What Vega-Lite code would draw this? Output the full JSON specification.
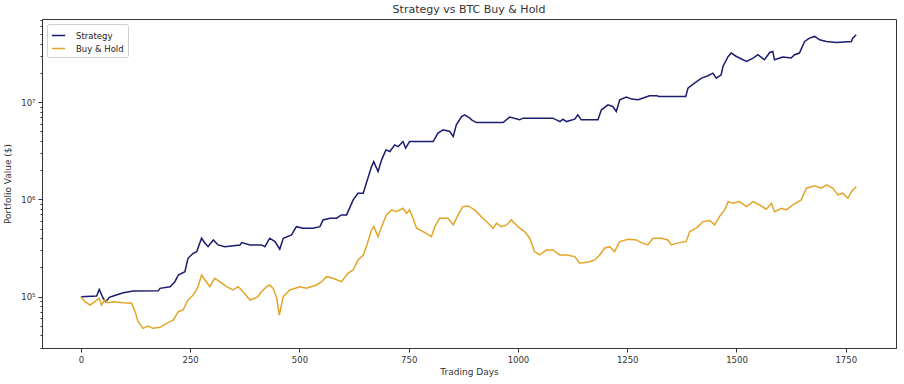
{
  "$schema": "https://vega.github.io/schema/vega-lite/v6.json",
  "width": 854,
  "height": 329,
  "padding": {"left": 42, "top": 19, "right": 8, "bottom": 36},
  "autosize": {"type": "none"},
  "background": "white",
  "config": {
    "font": "DejaVu Sans",
    "view": {"stroke": "#333", "strokeWidth": 1},
    "axis": {"grid": false, "domainColor": "#333", "tickColor": "#333", "labelColor": "#333", "titleColor": "#333", "labelFontSize": 8.5, "titleFontSize": 9, "titleFontWeight": "normal"}
  },
  "title": {"text": "Strategy vs BTC Buy & Hold", "fontSize": 11, "fontWeight": "normal", "color": "#333", "offset": 1, "anchor": "middle"},
  "datasets": {
    "series": [
      {"series": "Strategy", "day": 0, "value": 100000},
      {"series": "Strategy", "day": 36, "value": 101500},
      {"series": "Strategy", "day": 42, "value": 119000},
      {"series": "Strategy", "day": 51, "value": 96300},
      {"series": "Strategy", "day": 57, "value": 88900},
      {"series": "Strategy", "day": 65, "value": 98600},
      {"series": "Strategy", "day": 74, "value": 101700},
      {"series": "Strategy", "day": 97, "value": 109900},
      {"series": "Strategy", "day": 120, "value": 114500},
      {"series": "Strategy", "day": 177, "value": 115300},
      {"series": "Strategy", "day": 181, "value": 121900},
      {"series": "Strategy", "day": 204, "value": 126700},
      {"series": "Strategy", "day": 215, "value": 142600},
      {"series": "Strategy", "day": 223, "value": 167200},
      {"series": "Strategy", "day": 238, "value": 180800},
      {"series": "Strategy", "day": 245, "value": 248300},
      {"series": "Strategy", "day": 257, "value": 279600},
      {"series": "Strategy", "day": 265, "value": 290400},
      {"series": "Strategy", "day": 276, "value": 398900},
      {"series": "Strategy", "day": 284, "value": 354000},
      {"series": "Strategy", "day": 291, "value": 326700},
      {"series": "Strategy", "day": 303, "value": 383000},
      {"series": "Strategy", "day": 314, "value": 340400},
      {"series": "Strategy", "day": 329, "value": 326700},
      {"series": "Strategy", "day": 364, "value": 340400},
      {"series": "Strategy", "day": 368, "value": 359600},
      {"series": "Strategy", "day": 387, "value": 340400},
      {"series": "Strategy", "day": 413, "value": 340400},
      {"series": "Strategy", "day": 421, "value": 326700},
      {"series": "Strategy", "day": 432, "value": 398900},
      {"series": "Strategy", "day": 444, "value": 368100},
      {"series": "Strategy", "day": 455, "value": 307400},
      {"series": "Strategy", "day": 463, "value": 398900},
      {"series": "Strategy", "day": 482, "value": 431400},
      {"series": "Strategy", "day": 493, "value": 524800},
      {"series": "Strategy", "day": 508, "value": 505800},
      {"series": "Strategy", "day": 531, "value": 505800},
      {"series": "Strategy", "day": 547, "value": 524800},
      {"series": "Strategy", "day": 554, "value": 615200},
      {"series": "Strategy", "day": 570, "value": 641200},
      {"series": "Strategy", "day": 585, "value": 641200},
      {"series": "Strategy", "day": 596, "value": 693200},
      {"series": "Strategy", "day": 608, "value": 693200},
      {"series": "Strategy", "day": 623, "value": 988600},
      {"series": "Strategy", "day": 634, "value": 1158000},
      {"series": "Strategy", "day": 646, "value": 1158000},
      {"series": "Strategy", "day": 653, "value": 1468000},
      {"series": "Strategy", "day": 665, "value": 2175000},
      {"series": "Strategy", "day": 670, "value": 2448000},
      {"series": "Strategy", "day": 680, "value": 1932000},
      {"series": "Strategy", "day": 688, "value": 2549000},
      {"series": "Strategy", "day": 698, "value": 3230000},
      {"series": "Strategy", "day": 707, "value": 3105000},
      {"series": "Strategy", "day": 718, "value": 3638000},
      {"series": "Strategy", "day": 726, "value": 3491000},
      {"series": "Strategy", "day": 737, "value": 3934000},
      {"series": "Strategy", "day": 743, "value": 3365000},
      {"series": "Strategy", "day": 752, "value": 3934000},
      {"series": "Strategy", "day": 806, "value": 3934000},
      {"series": "Strategy", "day": 817, "value": 4797000},
      {"series": "Strategy", "day": 829, "value": 5188000},
      {"series": "Strategy", "day": 844, "value": 4988000},
      {"series": "Strategy", "day": 852, "value": 4426000},
      {"series": "Strategy", "day": 859, "value": 5834000},
      {"series": "Strategy", "day": 871, "value": 7112000},
      {"series": "Strategy", "day": 878, "value": 7396000},
      {"series": "Strategy", "day": 890, "value": 6844000},
      {"series": "Strategy", "day": 894, "value": 6577000},
      {"series": "Strategy", "day": 905, "value": 6166000},
      {"series": "Strategy", "day": 966, "value": 6166000},
      {"series": "Strategy", "day": 981, "value": 7015000},
      {"series": "Strategy", "day": 1004, "value": 6577000},
      {"series": "Strategy", "day": 1012, "value": 6844000},
      {"series": "Strategy", "day": 1080, "value": 6844000},
      {"series": "Strategy", "day": 1096, "value": 6310000},
      {"series": "Strategy", "day": 1103, "value": 6683000},
      {"series": "Strategy", "day": 1111, "value": 6310000},
      {"series": "Strategy", "day": 1130, "value": 6683000},
      {"series": "Strategy", "day": 1137, "value": 7396000},
      {"series": "Strategy", "day": 1145, "value": 6577000},
      {"series": "Strategy", "day": 1183, "value": 6577000},
      {"series": "Strategy", "day": 1191, "value": 8337000},
      {"series": "Strategy", "day": 1206, "value": 9376000},
      {"series": "Strategy", "day": 1217, "value": 9016000},
      {"series": "Strategy", "day": 1225, "value": 8000000},
      {"series": "Strategy", "day": 1233, "value": 10570000},
      {"series": "Strategy", "day": 1248, "value": 11250000},
      {"series": "Strategy", "day": 1260, "value": 10740000},
      {"series": "Strategy", "day": 1275, "value": 10570000},
      {"series": "Strategy", "day": 1301, "value": 11610000},
      {"series": "Strategy", "day": 1317, "value": 11610000},
      {"series": "Strategy", "day": 1324, "value": 11430000},
      {"series": "Strategy", "day": 1384, "value": 11430000},
      {"series": "Strategy", "day": 1389, "value": 13930000},
      {"series": "Strategy", "day": 1404, "value": 15670000},
      {"series": "Strategy", "day": 1420, "value": 17660000},
      {"series": "Strategy", "day": 1435, "value": 18660000},
      {"series": "Strategy", "day": 1446, "value": 19860000},
      {"series": "Strategy", "day": 1454, "value": 17660000},
      {"series": "Strategy", "day": 1465, "value": 19100000},
      {"series": "Strategy", "day": 1469, "value": 23230000},
      {"series": "Strategy", "day": 1481, "value": 29440000},
      {"series": "Strategy", "day": 1488, "value": 31920000},
      {"series": "Strategy", "day": 1500, "value": 29440000},
      {"series": "Strategy", "day": 1507, "value": 28380000},
      {"series": "Strategy", "day": 1523, "value": 26180000},
      {"series": "Strategy", "day": 1538, "value": 28380000},
      {"series": "Strategy", "day": 1549, "value": 30690000},
      {"series": "Strategy", "day": 1564, "value": 27230000},
      {"series": "Strategy", "day": 1576, "value": 32360000},
      {"series": "Strategy", "day": 1583, "value": 33190000},
      {"series": "Strategy", "day": 1587, "value": 27230000},
      {"series": "Strategy", "day": 1606, "value": 29040000},
      {"series": "Strategy", "day": 1625, "value": 28380000},
      {"series": "Strategy", "day": 1633, "value": 30690000},
      {"series": "Strategy", "day": 1644, "value": 31920000},
      {"series": "Strategy", "day": 1656, "value": 41980000},
      {"series": "Strategy", "day": 1667, "value": 45500000},
      {"series": "Strategy", "day": 1679, "value": 47320000},
      {"series": "Strategy", "day": 1690, "value": 43750000},
      {"series": "Strategy", "day": 1706, "value": 41980000},
      {"series": "Strategy", "day": 1728, "value": 41020000},
      {"series": "Strategy", "day": 1763, "value": 41980000},
      {"series": "Strategy", "day": 1766, "value": 45500000},
      {"series": "Strategy", "day": 1774, "value": 49200000},
      {"series": "Buy & Hold", "day": 0, "value": 100000},
      {"series": "Buy & Hold", "day": 9, "value": 88900},
      {"series": "Buy & Hold", "day": 21, "value": 82200},
      {"series": "Buy & Hold", "day": 32, "value": 88900},
      {"series": "Buy & Hold", "day": 42, "value": 96300},
      {"series": "Buy & Hold", "day": 47, "value": 82200},
      {"series": "Buy & Hold", "day": 55, "value": 92500},
      {"series": "Buy & Hold", "day": 62, "value": 86700},
      {"series": "Buy & Hold", "day": 74, "value": 88900},
      {"series": "Buy & Hold", "day": 97, "value": 86700},
      {"series": "Buy & Hold", "day": 116, "value": 85500},
      {"series": "Buy & Hold", "day": 124, "value": 70100},
      {"series": "Buy & Hold", "day": 131, "value": 55300},
      {"series": "Buy & Hold", "day": 142, "value": 47300},
      {"series": "Buy & Hold", "day": 154, "value": 50000},
      {"series": "Buy & Hold", "day": 165, "value": 47300},
      {"series": "Buy & Hold", "day": 181, "value": 48400},
      {"series": "Buy & Hold", "day": 196, "value": 53200},
      {"series": "Buy & Hold", "day": 211, "value": 57500},
      {"series": "Buy & Hold", "day": 223, "value": 70100},
      {"series": "Buy & Hold", "day": 234, "value": 73000},
      {"series": "Buy & Hold", "day": 245, "value": 92500},
      {"series": "Buy & Hold", "day": 257, "value": 104000},
      {"series": "Buy & Hold", "day": 268, "value": 126700},
      {"series": "Buy & Hold", "day": 276, "value": 167200},
      {"series": "Buy & Hold", "day": 284, "value": 148600},
      {"series": "Buy & Hold", "day": 295, "value": 126700},
      {"series": "Buy & Hold", "day": 306, "value": 154600},
      {"series": "Buy & Hold", "day": 318, "value": 142600},
      {"series": "Buy & Hold", "day": 333, "value": 126700},
      {"series": "Buy & Hold", "day": 348, "value": 117200},
      {"series": "Buy & Hold", "day": 360, "value": 126700},
      {"series": "Buy & Hold", "day": 371, "value": 112500},
      {"series": "Buy & Hold", "day": 387, "value": 92500},
      {"series": "Buy & Hold", "day": 398, "value": 96300},
      {"series": "Buy & Hold", "day": 405, "value": 100000},
      {"series": "Buy & Hold", "day": 413, "value": 112500},
      {"series": "Buy & Hold", "day": 425, "value": 126700},
      {"series": "Buy & Hold", "day": 432, "value": 131900},
      {"series": "Buy & Hold", "day": 440, "value": 121900},
      {"series": "Buy & Hold", "day": 448, "value": 97000},
      {"series": "Buy & Hold", "day": 454, "value": 64800},
      {"series": "Buy & Hold", "day": 463, "value": 100000},
      {"series": "Buy & Hold", "day": 478, "value": 117200},
      {"series": "Buy & Hold", "day": 501, "value": 126700},
      {"series": "Buy & Hold", "day": 516, "value": 121900},
      {"series": "Buy & Hold", "day": 539, "value": 131900},
      {"series": "Buy & Hold", "day": 551, "value": 142600},
      {"series": "Buy & Hold", "day": 562, "value": 160600},
      {"series": "Buy & Hold", "day": 577, "value": 154600},
      {"series": "Buy & Hold", "day": 596, "value": 142600},
      {"series": "Buy & Hold", "day": 611, "value": 174100},
      {"series": "Buy & Hold", "day": 623, "value": 188300},
      {"series": "Buy & Hold", "day": 634, "value": 238600},
      {"series": "Buy & Hold", "day": 646, "value": 268600},
      {"series": "Buy & Hold", "day": 653, "value": 326700},
      {"series": "Buy & Hold", "day": 665, "value": 485300},
      {"series": "Buy & Hold", "day": 670, "value": 524800},
      {"series": "Buy & Hold", "day": 680, "value": 414100},
      {"series": "Buy & Hold", "day": 688, "value": 524800},
      {"series": "Buy & Hold", "day": 699, "value": 693200},
      {"series": "Buy & Hold", "day": 711, "value": 779800},
      {"series": "Buy & Hold", "day": 722, "value": 748200},
      {"series": "Buy & Hold", "day": 737, "value": 811100},
      {"series": "Buy & Hold", "day": 745, "value": 721100},
      {"series": "Buy & Hold", "day": 752, "value": 779800},
      {"series": "Buy & Hold", "day": 760, "value": 641200},
      {"series": "Buy & Hold", "day": 768, "value": 505800},
      {"series": "Buy & Hold", "day": 783, "value": 466700},
      {"series": "Buy & Hold", "day": 802, "value": 414100},
      {"series": "Buy & Hold", "day": 810, "value": 524800},
      {"series": "Buy & Hold", "day": 821, "value": 641200},
      {"series": "Buy & Hold", "day": 840, "value": 641200},
      {"series": "Buy & Hold", "day": 852, "value": 547000},
      {"series": "Buy & Hold", "day": 863, "value": 693200},
      {"series": "Buy & Hold", "day": 874, "value": 843300},
      {"series": "Buy & Hold", "day": 886, "value": 857000},
      {"series": "Buy & Hold", "day": 901, "value": 779800},
      {"series": "Buy & Hold", "day": 916, "value": 665300},
      {"series": "Buy & Hold", "day": 932, "value": 568900},
      {"series": "Buy & Hold", "day": 943, "value": 505800},
      {"series": "Buy & Hold", "day": 951, "value": 568900},
      {"series": "Buy & Hold", "day": 962, "value": 524800},
      {"series": "Buy & Hold", "day": 974, "value": 547000},
      {"series": "Buy & Hold", "day": 985, "value": 615200},
      {"series": "Buy & Hold", "day": 1000, "value": 524800},
      {"series": "Buy & Hold", "day": 1015, "value": 466700},
      {"series": "Buy & Hold", "day": 1027, "value": 398900},
      {"series": "Buy & Hold", "day": 1038, "value": 290400},
      {"series": "Buy & Hold", "day": 1050, "value": 268600},
      {"series": "Buy & Hold", "day": 1065, "value": 302200},
      {"series": "Buy & Hold", "day": 1080, "value": 302200},
      {"series": "Buy & Hold", "day": 1096, "value": 268600},
      {"series": "Buy & Hold", "day": 1111, "value": 268600},
      {"series": "Buy & Hold", "day": 1130, "value": 258200},
      {"series": "Buy & Hold", "day": 1141, "value": 220800},
      {"series": "Buy & Hold", "day": 1164, "value": 229100},
      {"series": "Buy & Hold", "day": 1176, "value": 238600},
      {"series": "Buy & Hold", "day": 1187, "value": 268600},
      {"series": "Buy & Hold", "day": 1198, "value": 314800},
      {"series": "Buy & Hold", "day": 1210, "value": 326700},
      {"series": "Buy & Hold", "day": 1221, "value": 290400},
      {"series": "Buy & Hold", "day": 1233, "value": 368100},
      {"series": "Buy & Hold", "day": 1252, "value": 389600},
      {"series": "Buy & Hold", "day": 1271, "value": 383000},
      {"series": "Buy & Hold", "day": 1282, "value": 359600},
      {"series": "Buy & Hold", "day": 1297, "value": 340400},
      {"series": "Buy & Hold", "day": 1309, "value": 398900},
      {"series": "Buy & Hold", "day": 1328, "value": 398900},
      {"series": "Buy & Hold", "day": 1343, "value": 383000},
      {"series": "Buy & Hold", "day": 1351, "value": 340400},
      {"series": "Buy & Hold", "day": 1370, "value": 359600},
      {"series": "Buy & Hold", "day": 1385, "value": 368100},
      {"series": "Buy & Hold", "day": 1393, "value": 466700},
      {"series": "Buy & Hold", "day": 1408, "value": 505800},
      {"series": "Buy & Hold", "day": 1416, "value": 547000},
      {"series": "Buy & Hold", "day": 1423, "value": 591600},
      {"series": "Buy & Hold", "day": 1439, "value": 605400},
      {"series": "Buy & Hold", "day": 1450, "value": 547000},
      {"series": "Buy & Hold", "day": 1461, "value": 665300},
      {"series": "Buy & Hold", "day": 1473, "value": 779800},
      {"series": "Buy & Hold", "day": 1481, "value": 948600},
      {"series": "Buy & Hold", "day": 1492, "value": 914100},
      {"series": "Buy & Hold", "day": 1507, "value": 948600},
      {"series": "Buy & Hold", "day": 1523, "value": 843300},
      {"series": "Buy & Hold", "day": 1538, "value": 948600},
      {"series": "Buy & Hold", "day": 1553, "value": 877000},
      {"series": "Buy & Hold", "day": 1568, "value": 792500},
      {"series": "Buy & Hold", "day": 1580, "value": 914100},
      {"series": "Buy & Hold", "day": 1587, "value": 748200},
      {"series": "Buy & Hold", "day": 1603, "value": 811100},
      {"series": "Buy & Hold", "day": 1614, "value": 779800},
      {"series": "Buy & Hold", "day": 1629, "value": 877000},
      {"series": "Buy & Hold", "day": 1648, "value": 988600},
      {"series": "Buy & Hold", "day": 1660, "value": 1303000},
      {"series": "Buy & Hold", "day": 1679, "value": 1377000},
      {"series": "Buy & Hold", "day": 1694, "value": 1303000},
      {"series": "Buy & Hold", "day": 1706, "value": 1410000},
      {"series": "Buy & Hold", "day": 1721, "value": 1303000},
      {"series": "Buy & Hold", "day": 1732, "value": 1112000},
      {"series": "Buy & Hold", "day": 1743, "value": 1158000},
      {"series": "Buy & Hold", "day": 1755, "value": 1028000},
      {"series": "Buy & Hold", "day": 1763, "value": 1202000},
      {"series": "Buy & Hold", "day": 1774, "value": 1355000}
    ]
  },
  "data": {"name": "series"},
  "mark": {"type": "line", "strokeWidth": 1.5, "interpolate": "linear"},
  "encoding": {
    "x": {
      "field": "day", "type": "quantitative", "title": "Trading Days",
      "scale": {"domain": [-89, 1865], "nice": false, "zero": false},
      "axis": {"values": [0, 250, 500, 750, 1000, 1250, 1500, 1750], "format": "d", "tickSize": 4, "labelPadding": 3, "titlePadding": 4, "labelFlush": false}
    },
    "y": {
      "field": "value", "type": "quantitative", "title": "Portfolio Value ($)",
      "scale": {"type": "log", "domain": [29700, 71500000], "nice": false, "zero": false},
      "axis": {
        "values": [30000, 40000, 50000, 60000, 70000, 80000, 90000, 100000, 200000, 300000, 400000, 500000, 600000, 700000, 800000, 900000, 1000000, 2000000, 3000000, 4000000, 5000000, 6000000, 7000000, 8000000, 9000000, 10000000, 20000000, 30000000, 40000000, 50000000, 60000000, 70000000],
        "labelExpr": "datum.value == 100000 ? '10⁵' : datum.value == 1000000 ? '10⁶' : datum.value == 10000000 ? '10⁷' : ''",
        "tickSize": {"condition": {"test": "datum.value == 100000 || datum.value == 1000000 || datum.value == 10000000", "value": 4}, "value": 2},
        "labelPadding": 3, "titlePadding": 8, "labelOverlap": false
      }
    },
    "color": {
      "field": "series", "type": "nominal",
      "scale": {"domain": ["Strategy", "Buy & Hold"], "range": ["#1c1c6e", "#e3a528"]},
      "legend": {
        "title": null, "orient": "top-left", "offset": 5, "fillColor": "white", "strokeColor": "#d0d0d0",
        "padding": 4, "cornerRadius": 2, "symbolType": "stroke", "symbolSize": 180, "symbolStrokeWidth": 1.5,
        "labelFontSize": 8.5, "labelColor": "#222", "rowPadding": 1, "labelOffset": 10
      }
    }
  }
}
